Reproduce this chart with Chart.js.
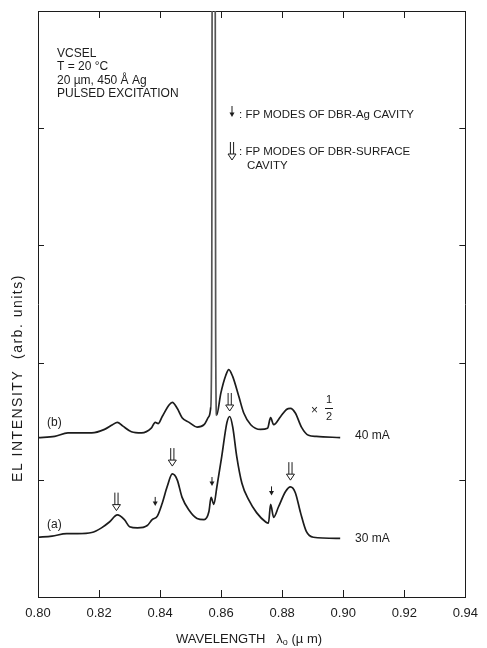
<!DOCTYPE html>
<html>
<head>
<meta charset="utf-8">
<script src="https://cdn.jsdelivr.net/npm/chart.js@4.4.1/dist/chart.umd.min.js"></script>
<style>
  html, body { margin: 0; padding: 0; background: #fff; }
  #wrap { width: 487px; height: 648px; }
</style>
</head>
<body>
<div id="wrap"><canvas id="spectra" width="487" height="648"></canvas></div>
<script>
// EL spectra of a VCSEL (wavelength in um, intensity in arb. units)
const WAVE_A = [0.8000, 0.8046, 0.8094, 0.8130, 0.8176, 0.8208, 0.8234, 0.8260, 0.8283, 0.8300,
                0.8326, 0.8358, 0.8374, 0.8391, 0.8407, 0.8423, 0.8440, 0.8456, 0.8472, 0.8495,
                0.8521, 0.8544, 0.8560, 0.8567, 0.8576, 0.8586, 0.8602, 0.8619, 0.8628, 0.8638,
                0.8651, 0.8668, 0.8690, 0.8716, 0.8746, 0.8755, 0.8762, 0.8772, 0.8788, 0.8811,
                0.8827, 0.8843, 0.8860, 0.8879, 0.8902, 0.8990];
const EL_A   = [0.51, 0.52, 0.54, 0.54, 0.55, 0.59, 0.64, 0.70, 0.66, 0.60,
                0.59, 0.61, 0.66, 0.69, 0.80, 0.94, 1.05, 1.00, 0.85, 0.74,
                0.67, 0.66, 0.73, 0.85, 0.79, 0.94, 1.20, 1.49, 1.54, 1.45,
                1.20, 0.97, 0.83, 0.72, 0.64, 0.63, 0.79, 0.68, 0.77, 0.90,
                0.94, 0.89, 0.72, 0.56, 0.51, 0.50];

// 40 mA trace: the lasing line near 0.857 um runs far off the top of the frame
const WAVE_B = [0.8000, 0.8055, 0.8098, 0.8130, 0.8176, 0.8218, 0.8244, 0.8260, 0.8277, 0.8306,
                0.8339, 0.8371, 0.8384, 0.8394, 0.8407, 0.8430, 0.8440, 0.8456, 0.8472, 0.8495,
                0.8521, 0.8544, 0.8560, 0.8566, 0.8569, 0.8572, 0.8579, 0.8582, 0.8585, 0.8599,
                0.8615, 0.8625, 0.8638, 0.8658, 0.8674, 0.8697, 0.8729, 0.8752, 0.8762, 0.8772,
                0.8795, 0.8814, 0.8827, 0.8843, 0.8863, 0.8886, 0.8912, 0.8990];
const EL_B   = [1.36, 1.37, 1.40, 1.40, 1.40, 1.43, 1.47, 1.49, 1.46, 1.41,
                1.40, 1.44, 1.49, 1.48, 1.54, 1.64, 1.66, 1.61, 1.53, 1.49,
                1.45, 1.47, 1.54, 1.62, 2.30, 8.00, 8.00, 2.30, 1.55, 1.74,
                1.89, 1.94, 1.88, 1.71, 1.57, 1.47, 1.43, 1.44, 1.53, 1.47,
                1.54, 1.60, 1.61, 1.57, 1.45, 1.38, 1.37, 1.36];

const X_TICKS = [0.80, 0.82, 0.84, 0.86, 0.88, 0.90, 0.92, 0.94];
const Y_TICKS = [1, 2, 3, 4];

// FP mode markers on the 30 mA trace (arrow tip positions)
const AG_MODE_WAVE   = [0.8384, 0.8570, 0.8765];
const AG_MODE_EL     = [0.76, 0.93, 0.85];
const SURF_MODE_WAVE = [0.8257, 0.8440, 0.8628, 0.8827];
const SURF_MODE_EL   = [0.72, 1.10, 1.57, 0.98];

const INK = '#1c1c1c';
const FONT = '"Liberation Sans", Arial, Helvetica, sans-serif';

function pts(xs, ys) { return xs.map((x, i) => ({ x, y: ys[i] })); }

function line(ctx, x1, y1, x2, y2) {
  ctx.beginPath(); ctx.moveTo(x1, y1); ctx.lineTo(x2, y2); ctx.stroke();
}

function filledArrow(ctx, x, tip, len) {
  line(ctx, x, tip - len, x, tip - 3);
  ctx.beginPath();
  ctx.moveTo(x - 2.5, tip - 4.5); ctx.lineTo(x + 2.5, tip - 4.5); ctx.lineTo(x, tip);
  ctx.closePath(); ctx.fill();
}

function hollowArrow(ctx, x, tip, len) {
  line(ctx, x - 1.6, tip - len, x - 1.6, tip - 6);
  line(ctx, x + 1.6, tip - len, x + 1.6, tip - 6);
  ctx.beginPath();
  ctx.moveTo(x - 4, tip - 6); ctx.lineTo(x + 4, tip - 6); ctx.lineTo(x, tip);
  ctx.closePath(); ctx.stroke();
}

const decorations = {
  id: 'decorations',
  afterDatasetsDraw(chart) {
    const { ctx, chartArea: a, scales: { x, y } } = chart;
    ctx.save();
    ctx.strokeStyle = INK;
    ctx.fillStyle = INK;
    ctx.lineWidth = 1;

    // inward tick marks on all four sides
    X_TICKS.slice(1, -1).forEach(v => {
      const px = Math.round(x.getPixelForValue(v)) + 0.5;
      line(ctx, px, a.bottom, px, a.bottom - 7);
      line(ctx, px, a.top, px, a.top + 7);
    });
    Y_TICKS.forEach(v => {
      const py = Math.round(y.getPixelForValue(v)) + 0.5;
      line(ctx, a.left, py, a.left + 6, py);
      line(ctx, a.right, py, a.right - 6, py);
    });

    // mode arrows
    AG_MODE_WAVE.forEach((w, i) => filledArrow(ctx, x.getPixelForValue(w), y.getPixelForValue(AG_MODE_EL[i]) - 2, 9));
    SURF_MODE_WAVE.forEach((w, i) => hollowArrow(ctx, x.getPixelForValue(w), y.getPixelForValue(SURF_MODE_EL[i]) - 2, 18));

    // legend
    filledArrow(ctx, 232, 117, 11);
    hollowArrow(ctx, 232, 160, 18);

    ctx.textBaseline = 'middle';
    ctx.textAlign = 'left';
    ctx.font = '12px ' + FONT;
    ctx.fillText('VCSEL', 57, 54);
    ctx.fillText('T = 20 °C', 57, 67);
    ctx.fillText('20 µm, 450 Å Ag', 57, 81);
    ctx.fillText('PULSED EXCITATION', 57, 94);

    ctx.font = '11.5px ' + FONT;
    ctx.fillText(': FP MODES OF DBR-Ag CAVITY', 239, 115);
    ctx.fillText(': FP MODES OF DBR-SURFACE', 239, 152);
    ctx.fillText('CAVITY', 247, 166);

    ctx.font = '12px ' + FONT;
    ctx.fillText('(b)', 47, 423);
    ctx.fillText('(a)', 47, 525);
    ctx.fillText('40 mA', 355, 436);
    ctx.fillText('30 mA', 355, 539);

    // x 1/2 scale note
    ctx.fillText('×', 311, 411);
    ctx.textAlign = 'center';
    ctx.font = '11px ' + FONT;
    ctx.fillText('1', 329, 400);
    ctx.fillText('2', 329, 417);
    line(ctx, 325, 408.5, 333, 408.5);

    // axis titles
    ctx.font = '13px ' + FONT;
    ctx.textAlign = 'left';
    const t1 = 'WAVELENGTH   λ', t2 = 'o', t3 = ' (µ m)';
    const w1 = ctx.measureText(t1).width, w3 = ctx.measureText(t3).width;
    ctx.font = '9px ' + FONT;
    const w2 = ctx.measureText(t2).width;
    let tx = 249 - (w1 + w2 + w3) / 2;
    ctx.font = '13px ' + FONT;
    ctx.fillText(t1, tx, 639);
    ctx.font = '9px ' + FONT;
    ctx.fillText(t2, tx + w1, 643);
    ctx.font = '13px ' + FONT;
    ctx.fillText(t3, tx + w1 + w2, 639);

    ctx.translate(18, 378);
    ctx.rotate(-Math.PI / 2);
    ctx.textAlign = 'center';
    ctx.font = '14px ' + FONT;
    ctx.letterSpacing = '1.5px';
    ctx.fillText('EL INTENSITY  (arb. units)', 0, 0);
    ctx.restore();
  }
};

const frameAxis = (pos, size) => ({
  position: pos,
  ticks: { display: false },
  grid: { display: true, drawOnChartArea: false, drawTicks: false },
  border: { color: INK, width: 1 },
  afterFit: s => { if (pos === 'top' || pos === 'bottom') s.height = size; else s.width = size; }
});

new Chart(document.getElementById('spectra'), {
  type: 'line',
  data: {
    datasets: [
      { label: '30 mA', data: pts(WAVE_A, EL_A), borderColor: INK },
      { label: '40 mA', data: pts(WAVE_B, EL_B), borderColor: INK,
        segment: { borderColor: c => (c.p0.parsed.y > 2 || c.p1.parsed.y > 2) ? '#555' : INK } }
    ]
  },
  options: {
    responsive: false,
    animation: false,
    devicePixelRatio: 1,
    layout: { padding: 0 },
    plugins: { legend: { display: false }, tooltip: { enabled: false } },
    elements: {
      point: { radius: 0 },
      line: { borderWidth: 1.7, cubicInterpolationMode: 'monotone', fill: false }
    },
    scales: {
      x: {
        type: 'linear', position: 'bottom', min: 0.80, max: 0.94,
        afterBuildTicks: s => { s.ticks = X_TICKS.map(v => ({ value: v })); },
        ticks: { callback: v => v.toFixed(2), color: INK, font: { family: FONT, size: 13 },
                 padding: 9, maxRotation: 0, autoSkip: false },
        grid: { display: true, drawOnChartArea: false, drawTicks: false },
        border: { color: INK, width: 1 },
        afterFit: s => { s.height = 51; }
      },
      xTop: Object.assign({ type: 'linear', min: 0.80, max: 0.94 }, frameAxis('top', 11)),
      y: Object.assign({ type: 'linear', min: 0, max: 5 }, frameAxis('left', 38)),
      yRight: Object.assign({ type: 'linear', min: 0, max: 5 }, frameAxis('right', 19))
    }
  },
  plugins: [decorations]
});
</script>
</body>
</html>
